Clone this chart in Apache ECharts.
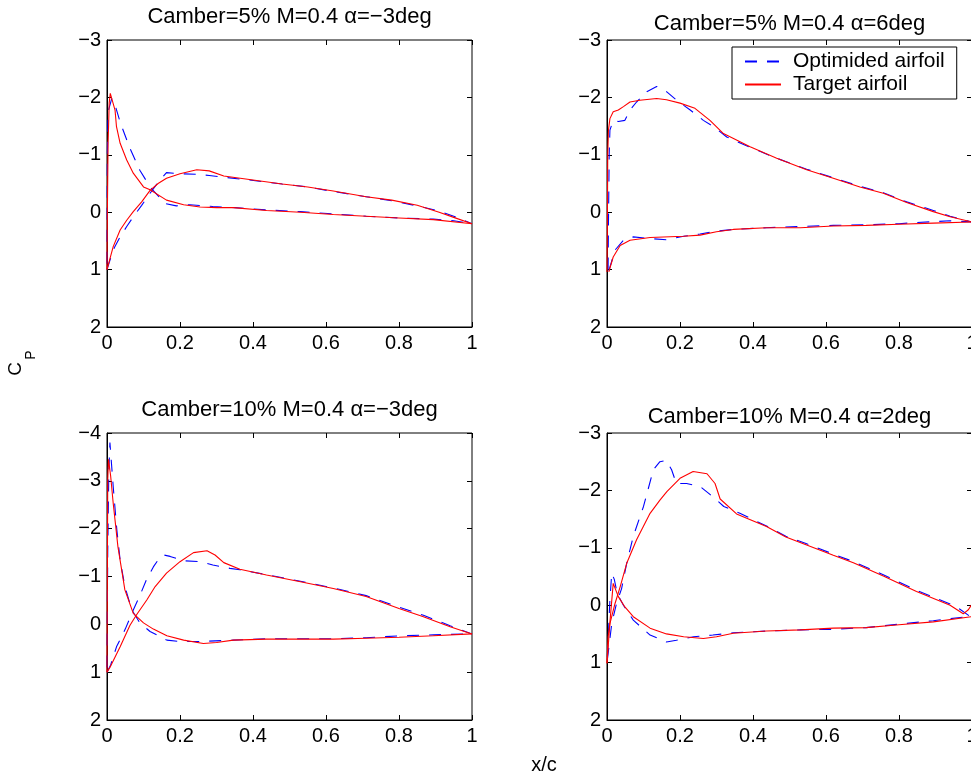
<!DOCTYPE html>
<html><head><meta charset="utf-8">
<script src="https://cdn.jsdelivr.net/npm/echarts@6/dist/echarts.min.js"></script>
<style>html,body{margin:0;padding:0;background:#fff}#c{width:971px;height:778px}</style>
</head><body><div id="c"></div><script>
// ---- Data (x/c, Cp) ----
const titles = ['Camber=5% M=0.4 \u03b1=\u22123deg', 'Camber=5% M=0.4 \u03b1=6deg', 'Camber=10% M=0.4 \u03b1=\u22123deg', 'Camber=10% M=0.4 \u03b1=2deg'];
const seriesNames = ['Optimided airfoil', 'Target airfoil'];
const xTicks = [0, 0.2, 0.4, 0.6, 0.8, 1];
const yRanges = [[-3, 2], [-3, 2], [-4, 2], [-3, 2]];

// Top-left: Camber 5%, alpha -3
const tlRedA = [[0,1.0],[0.017,0.6],[0.036,0.31],[0.054,0.14],[0.072,-0.01],[0.095,-0.18],[0.118,-0.38],[0.14,-0.5],[0.163,-0.59],[0.2,-0.67],[0.246,-0.74],[0.28,-0.72],[0.32,-0.63],[0.39,-0.57],[0.48,-0.49],[0.55,-0.44],[0.62,-0.37],[0.71,-0.27],[0.78,-0.21],[0.85,-0.12],[0.91,0.0],[0.95,0.09],[1.0,0.2]];
const tlRedB = [[0,1.0],[0.001,0.0],[0.003,-1.2],[0.006,-1.9],[0.009,-2.07],[0.022,-1.78],[0.026,-1.49],[0.036,-1.2],[0.054,-0.91],[0.072,-0.68],[0.1,-0.44],[0.118,-0.39],[0.163,-0.21],[0.21,-0.13],[0.255,-0.09],[0.3,-0.08],[0.346,-0.08],[0.437,-0.03],[0.53,0.0],[0.62,0.04],[0.71,0.07],[0.8,0.1],[0.894,0.13],[1.0,0.2]];
const tlBlueA = [[0,1.0],[0.01,0.8],[0.02,0.62],[0.036,0.43],[0.054,0.25],[0.072,0.08],[0.095,-0.12],[0.118,-0.33],[0.14,-0.52],[0.163,-0.69],[0.2,-0.67],[0.25,-0.66],[0.28,-0.64],[0.32,-0.61],[0.39,-0.56],[0.48,-0.49],[0.55,-0.44],[0.62,-0.36],[0.71,-0.27],[0.78,-0.2],[0.85,-0.11],[0.91,-0.02],[0.95,0.07],[1.0,0.2]];
const tlBlueB = [[0,0.9],[0.001,-1.0],[0.003,-1.75],[0.013,-1.98],[0.022,-1.87],[0.037,-1.55],[0.063,-1.11],[0.09,-0.73],[0.118,-0.44],[0.159,-0.15],[0.19,-0.11],[0.227,-0.13],[0.29,-0.1],[0.35,-0.08],[0.437,-0.04],[0.53,-0.01],[0.62,0.03],[0.71,0.07],[0.8,0.1],[0.894,0.12],[0.95,0.15],[1.0,0.2]];

// Top-right: Camber 5%, alpha 6
const trRedA = [[0,1.04],[0.001,0.3],[0.002,-1.0],[0.004,-1.43],[0.008,-1.63],[0.017,-1.75],[0.031,-1.78],[0.045,-1.84],[0.063,-1.92],[0.09,-1.95],[0.136,-1.98],[0.163,-1.96],[0.2,-1.9],[0.241,-1.81],[0.282,-1.6],[0.319,-1.37],[0.392,-1.14],[0.465,-0.94],[0.547,-0.74],[0.62,-0.59],[0.693,-0.44],[0.757,-0.33],[0.821,-0.17],[0.894,-0.01],[0.94,0.08],[1.0,0.17]];
const trRedB = [[0.005,1.04],[0.017,0.78],[0.036,0.58],[0.063,0.49],[0.118,0.44],[0.21,0.42],[0.255,0.4],[0.3,0.34],[0.346,0.3],[0.437,0.27],[0.53,0.27],[0.62,0.24],[0.71,0.23],[0.8,0.21],[0.894,0.19],[1.0,0.17]];
const trBlueA = [[0.003,1.0],[0.004,0.2],[0.006,-1.0],[0.008,-1.43],[0.017,-1.6],[0.031,-1.58],[0.049,-1.6],[0.063,-1.78],[0.081,-1.92],[0.109,-2.1],[0.136,-2.19],[0.163,-2.1],[0.191,-1.95],[0.228,-1.78],[0.264,-1.6],[0.292,-1.49],[0.328,-1.31],[0.392,-1.13],[0.465,-0.94],[0.547,-0.75],[0.62,-0.6],[0.693,-0.45],[0.757,-0.34],[0.821,-0.18],[0.894,-0.03],[0.94,0.07],[1.0,0.17]];
const trBlueB = [[0.005,1.02],[0.022,0.66],[0.045,0.49],[0.072,0.43],[0.118,0.46],[0.163,0.48],[0.21,0.42],[0.255,0.38],[0.3,0.33],[0.346,0.3],[0.437,0.27],[0.53,0.25],[0.62,0.23],[0.71,0.22],[0.8,0.2],[0.85,0.18],[0.94,0.15],[1.0,0.17]];

// Bottom-left: Camber 10%, alpha -3
const blRedA = [[0,1.0],[0.001,-1.0],[0.002,-3.0],[0.004,-3.45],[0.01,-3.1],[0.017,-2.53],[0.03,-1.62],[0.049,-0.72],[0.072,-0.23],[0.1,-0.03],[0.127,0.1],[0.164,0.24],[0.21,0.33],[0.264,0.4],[0.3,0.38],[0.346,0.33],[0.437,0.31],[0.53,0.31],[0.62,0.31],[0.71,0.29],[0.8,0.27],[0.894,0.24],[1.0,0.2]];
const blRedB = [[0,1.0],[0.008,0.9],[0.036,0.47],[0.063,0.02],[0.081,-0.2],[0.109,-0.51],[0.132,-0.79],[0.163,-1.07],[0.2,-1.31],[0.237,-1.5],[0.274,-1.54],[0.296,-1.45],[0.32,-1.29],[0.364,-1.15],[0.437,-1.03],[0.53,-0.89],[0.62,-0.75],[0.71,-0.58],[0.8,-0.33],[0.867,-0.16],[0.94,0.05],[1.0,0.2]];
const blBlueA = [[0,0.9],[0.002,-1.5],[0.005,-3.2],[0.008,-3.8],[0.017,-2.88],[0.027,-1.97],[0.036,-1.34],[0.049,-0.79],[0.068,-0.3],[0.09,-0.03],[0.118,0.15],[0.164,0.33],[0.2,0.36],[0.255,0.36],[0.346,0.33],[0.437,0.3],[0.53,0.3],[0.62,0.3],[0.71,0.28],[0.8,0.24],[0.894,0.22],[1.0,0.2]];
const blBlueB = [[0,1.0],[0.01,0.85],[0.026,0.47],[0.05,0.1],[0.072,-0.3],[0.09,-0.6],[0.108,-0.93],[0.127,-1.2],[0.145,-1.4],[0.155,-1.45],[0.173,-1.42],[0.21,-1.33],[0.255,-1.31],[0.29,-1.24],[0.337,-1.17],[0.364,-1.14],[0.437,-1.04],[0.53,-0.9],[0.62,-0.76],[0.71,-0.6],[0.8,-0.36],[0.867,-0.19],[0.94,0.03],[1.0,0.2]];

// Bottom-right: Camber 10%, alpha 2
const brRedA = [[0,1.01],[0.003,0.55],[0.008,0.32],[0.022,-0.03],[0.036,-0.32],[0.054,-0.73],[0.081,-1.14],[0.118,-1.6],[0.145,-1.83],[0.164,-1.98],[0.2,-2.21],[0.236,-2.33],[0.274,-2.29],[0.296,-2.12],[0.31,-1.85],[0.355,-1.59],[0.437,-1.37],[0.49,-1.19],[0.547,-1.05],[0.62,-0.87],[0.675,-0.74],[0.757,-0.51],[0.848,-0.24],[0.94,0.0],[0.976,0.15],[0.99,0.08],[1.0,-0.02]];
const brRedB = [[0,1.01],[0.008,0.3],[0.017,-0.38],[0.031,-0.15],[0.049,0.03],[0.072,0.2],[0.118,0.4],[0.163,0.5],[0.21,0.55],[0.264,0.58],[0.3,0.55],[0.346,0.49],[0.437,0.45],[0.53,0.43],[0.62,0.4],[0.71,0.39],[0.8,0.34],[0.894,0.29],[1.0,0.2]];
const brBlueA = [[0.001,0.95],[0.013,0.32],[0.026,-0.03],[0.04,-0.29],[0.054,-0.73],[0.072,-1.2],[0.1,-1.72],[0.127,-2.36],[0.145,-2.5],[0.163,-2.52],[0.177,-2.36],[0.19,-2.12],[0.218,-2.12],[0.255,-2.07],[0.29,-1.89],[0.32,-1.72],[0.364,-1.6],[0.437,-1.38],[0.49,-1.2],[0.547,-1.07],[0.62,-0.89],[0.675,-0.76],[0.757,-0.53],[0.848,-0.26],[0.94,-0.02],[0.967,0.07],[1.0,0.22]];
const brBlueB = [[0.001,0.9],[0.008,-0.1],[0.013,-0.56],[0.02,-0.45],[0.028,-0.2],[0.045,0.0],[0.072,0.26],[0.118,0.52],[0.163,0.64],[0.19,0.61],[0.237,0.55],[0.29,0.52],[0.346,0.48],[0.437,0.45],[0.53,0.43],[0.62,0.42],[0.71,0.39],[0.8,0.33],[0.894,0.27],[1.0,0.19]];

const panelData = [
  [tlBlueA, tlBlueB, tlRedA, tlRedB],
  [trBlueA, trBlueB, trRedA, trRedB],
  [blBlueA, blBlueB, blRedA, blRedB],
  [brBlueA, brBlueB, brRedA, brRedB]
];

// ---- Layout ----
const FONT = '"Liberation Sans", Arial, Helvetica, sans-serif';
const boxes = [
  {left:107, top:40}, {left:607, top:40}, {left:107, top:433}, {left:607, top:433}
];
const titleY = [17, 24, 410, 417];
const W = 365, H = 287;

const grid = [], xAxis = [], yAxis = [], series = [], graphic = [];
const minusFmt = v => (v < 0 ? '\u2212' + Math.abs(v) : String(v));
const tickStyle = {show:true, inside:true, length:5, lineStyle:{color:'#000', width:1}};

boxes.forEach((b, i) => {
  grid.push({left:b.left, top:b.top, width:W, height:H, show:true, borderColor:'#000', borderWidth:1,
    backgroundColor:'#fff', containLabel:false, outerBoundsMode:'none'});
  const [ymin, ymax] = yRanges[i];
  xAxis.push({type:'value', gridIndex:i, position:'bottom', min:0, max:1, interval:0.2,
    axisLine:{show:true, onZero:false, lineStyle:{color:'#000', width:1}},
    axisTick:tickStyle,
    axisLabel:{show:true, color:'#000', fontSize:20, fontFamily:FONT, margin:6,
      showMinLabel:true, showMaxLabel:true, hideOverlap:false,
      formatter: v => String(+v.toFixed(1))},
    splitLine:{show:false}});
  xAxis.push({type:'value', gridIndex:i, position:'top', min:0, max:1, interval:0.2,
    axisLine:{show:false, onZero:false}, axisTick:tickStyle,
    axisLabel:{show:false}, splitLine:{show:false}});
  yAxis.push({type:'value', gridIndex:i, position:'left', min:ymin, max:ymax, interval:1, inverse:true,
    axisLine:{show:true, onZero:false, lineStyle:{color:'#000', width:1}},
    axisTick:tickStyle,
    axisLabel:{show:true, color:'#000', fontSize:20, fontFamily:FONT, margin:6, formatter:minusFmt,
      showMinLabel:true, showMaxLabel:true},
    splitLine:{show:false}});
  yAxis.push({type:'value', gridIndex:i, position:'right', min:ymin, max:ymax, interval:1, inverse:true,
    axisLine:{show:false, onZero:false}, axisTick:tickStyle,
    axisLabel:{show:false}, splitLine:{show:false}});

  const d = panelData[i];
  const styles = [
    {name:seriesNames[0], color:'#0000ff', type:[12,10]},
    {name:seriesNames[0], color:'#0000ff', type:[12,10]},
    {name:seriesNames[1], color:'#ff0000', type:'solid'},
    {name:seriesNames[1], color:'#ff0000', type:'solid'}
  ];
  d.forEach((arr, k) => {
    const s = styles[k];
    series.push({type:'line', name:s.name, xAxisIndex:2*i, yAxisIndex:2*i, data:arr,
      showSymbol:false, symbol:'none', smooth:false, clip:true, silent:true,
      color:s.color, itemStyle:{color:s.color},
      lineStyle:{color:s.color, width:1.1, type:s.type}, z:k<2?2:3});
  });

  graphic.push({type:'text', x:b.left + W/2, y:titleY[i], style:{text:titles[i], font:'22px ' + FONT, fill:'#000',
    textAlign:'center', textVerticalAlign:'middle', align:'center', verticalAlign:'middle'}});
});

graphic.push({type:'text', x:16, y:369, rotation:Math.PI/2, style:{text:'C', font:'19px ' + FONT, fill:'#000',
  textAlign:'center', textVerticalAlign:'middle', align:'center', verticalAlign:'middle'}});
graphic.push({type:'text', x:31, y:355, rotation:Math.PI/2, style:{text:'P', font:'14px ' + FONT, fill:'#000',
  textAlign:'center', textVerticalAlign:'middle', align:'center', verticalAlign:'middle'}});
graphic.push({type:'text', x:544, y:765, style:{text:'x/c', font:'20px ' + FONT, fill:'#000',
  textAlign:'center', textVerticalAlign:'middle', align:'center', verticalAlign:'middle'}});

const chart = echarts.init(document.getElementById('c'), null, {renderer:'canvas'});
chart.setOption({
  animation:false,
  backgroundColor:'#fff',
  grid, xAxis, yAxis, series, graphic,
  legend:{data:seriesNames, orient:'vertical', left:732, top:47, itemWidth:36, itemHeight:14, itemGap:2,
    padding:[4,12,4,12], borderColor:'#000', borderWidth:1, backgroundColor:'#fff', borderRadius:0,
    itemStyle:{opacity:0, borderWidth:0},
    textStyle:{fontSize:21, fontFamily:FONT, color:'#000', padding:[0,0,0,7]}, z:10}
});
</script></body></html>
